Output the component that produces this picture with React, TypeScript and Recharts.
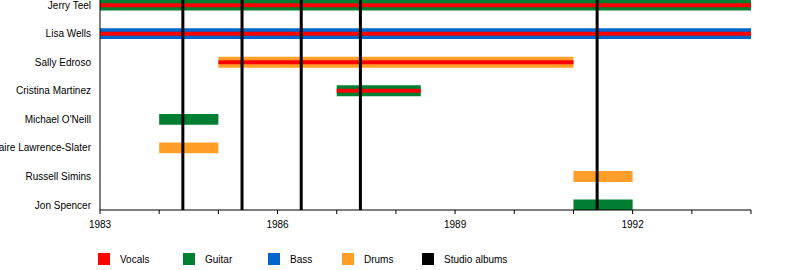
import { ComposedChart, XAxis, YAxis, ReferenceArea, ReferenceLine, Legend } from "recharts";

const members = [
  "Jerry Teel", "Lisa Wells", "Sally Edroso", "Cristina Martinez",
  "Michael O'Neill", "Claire Lawrence-Slater", "Russell Simins", "Jon Spencer",
];
const starts = [1983, 1983, 1985, 1987, 1984, 1984, 1991, 1991];
const ends = [1994, 1994, 1991, 1988.42, 1985, 1985, 1992, 1992];
const instruments = ["Guitar", "Bass", "Drums", "Guitar", "Guitar", "Drums", "Drums", "Guitar"];
const vocals = [true, true, true, true, false, false, false, false];
const albums = [1984.4, 1985.4, 1986.4, 1987.4, 1991.4];
const yearTicks = [1983, 1984, 1985, 1986, 1987, 1988, 1989, 1990, 1991, 1992, 1993, 1994];
const labelYears = [1983, 1986, 1989, 1992];
const legendItems = ["Vocals", "Guitar", "Bass", "Drums", "Studio albums"];

const COLORS: Record<string, string> = {
  Vocals: "#FF0000",
  Guitar: "#007F33",
  Bass: "#0066CC",
  Drums: "#FF9F29",
  "Studio albums": "#000000",
};

const FONT = "'Liberation Sans', Arial, sans-serif";
const N = members.length;
// row index -> numeric y (top row highest)
const rowY = (i: number) => N - 1 - i;
const OUTER = 0.19;
const INNER = 0.07;

const legendX = [98, 183, 268, 342, 422];

function TimelineLegend() {
  return (
    <div style={{ position: "relative", width: 800, height: 20, fontFamily: FONT, fontSize: 10 }}>
      {legendItems.map((name, i) => (
        <div key={name} style={{ position: "absolute", left: legendX[i], top: 0, display: "flex", alignItems: "center" }}>
          <span style={{ width: 12, height: 12, background: COLORS[name], display: "inline-block" }} />
          <span style={{ marginLeft: 10, color: "#000" }}>{name}</span>
        </div>
      ))}
    </div>
  );
}

function MemberTick(props: any) {
  const { x, y, payload } = props;
  const name = members[N - 1 - payload.value] ?? "";
  return (
    <text x={x} y={y} dy="0.35em" textAnchor="end" fill="#000" fontSize={10} fontFamily={FONT}>
      {name}
    </text>
  );
}

export default function App() {
  const rows = members.map((name, i) => ({ name, y: rowY(i) }));
  return (
    <div style={{ position: "absolute", left: 0, top: 0, width: 800, height: 270, background: "#fff" }}>
      <ComposedChart
        width={800}
        height={270}
        data={rows}
        margin={{ top: 0, right: 49, bottom: 10, left: 0 }}
        style={{ fontFamily: FONT }}
      >
        <XAxis
          type="number"
          dataKey="x"
          domain={[1983, 1994]}
          ticks={yearTicks}
          interval={0}
          allowDataOverflow
          tickFormatter={(v: number) => (labelYears.includes(v) ? String(v) : "")}
          axisLine={{ stroke: "#000" }}
          tickLine={{ stroke: "#000" }}
          tickSize={4}
          tickMargin={7}
          tick={{ fill: "#000", fontSize: 10 }}
          height={30}
        />
        <YAxis
          type="number"
          dataKey="y"
          domain={[-0.175, 7.18]}
          ticks={rows.map((r) => r.y)}
          interval={0}
          allowDataOverflow
          axisLine={{ stroke: "#000" }}
          tickLine={false}
          tickSize={0}
          tickMargin={9}
          tick={<MemberTick />}
          width={100}
        />
        {albums.map((a) => (
          <ReferenceLine key={a} x={a} stroke={COLORS["Studio albums"]} strokeWidth={3} ifOverflow="hidden" />
        ))}
        {members.map((m, i) => (
          <ReferenceArea
            key={m}
            x1={starts[i]}
            x2={ends[i]}
            y1={rowY(i) - OUTER}
            y2={rowY(i) + OUTER}
            fill={COLORS[instruments[i]]}
            fillOpacity={1}
            stroke="none"
            ifOverflow="hidden"
          />
        ))}
        {members.map((m, i) =>
          vocals[i] ? (
            <ReferenceArea
              key={m + "-voc"}
              x1={starts[i]}
              x2={ends[i]}
              y1={rowY(i) - INNER}
              y2={rowY(i) + INNER}
              fill={COLORS.Vocals}
              fillOpacity={1}
              stroke="none"
              ifOverflow="hidden"
            />
          ) : null
        )}
        <Legend
          content={() => <TimelineLegend />}
          wrapperStyle={{ position: "absolute", left: 0, top: 253, width: 800 }}
        />
      </ComposedChart>
    </div>
  );
}
